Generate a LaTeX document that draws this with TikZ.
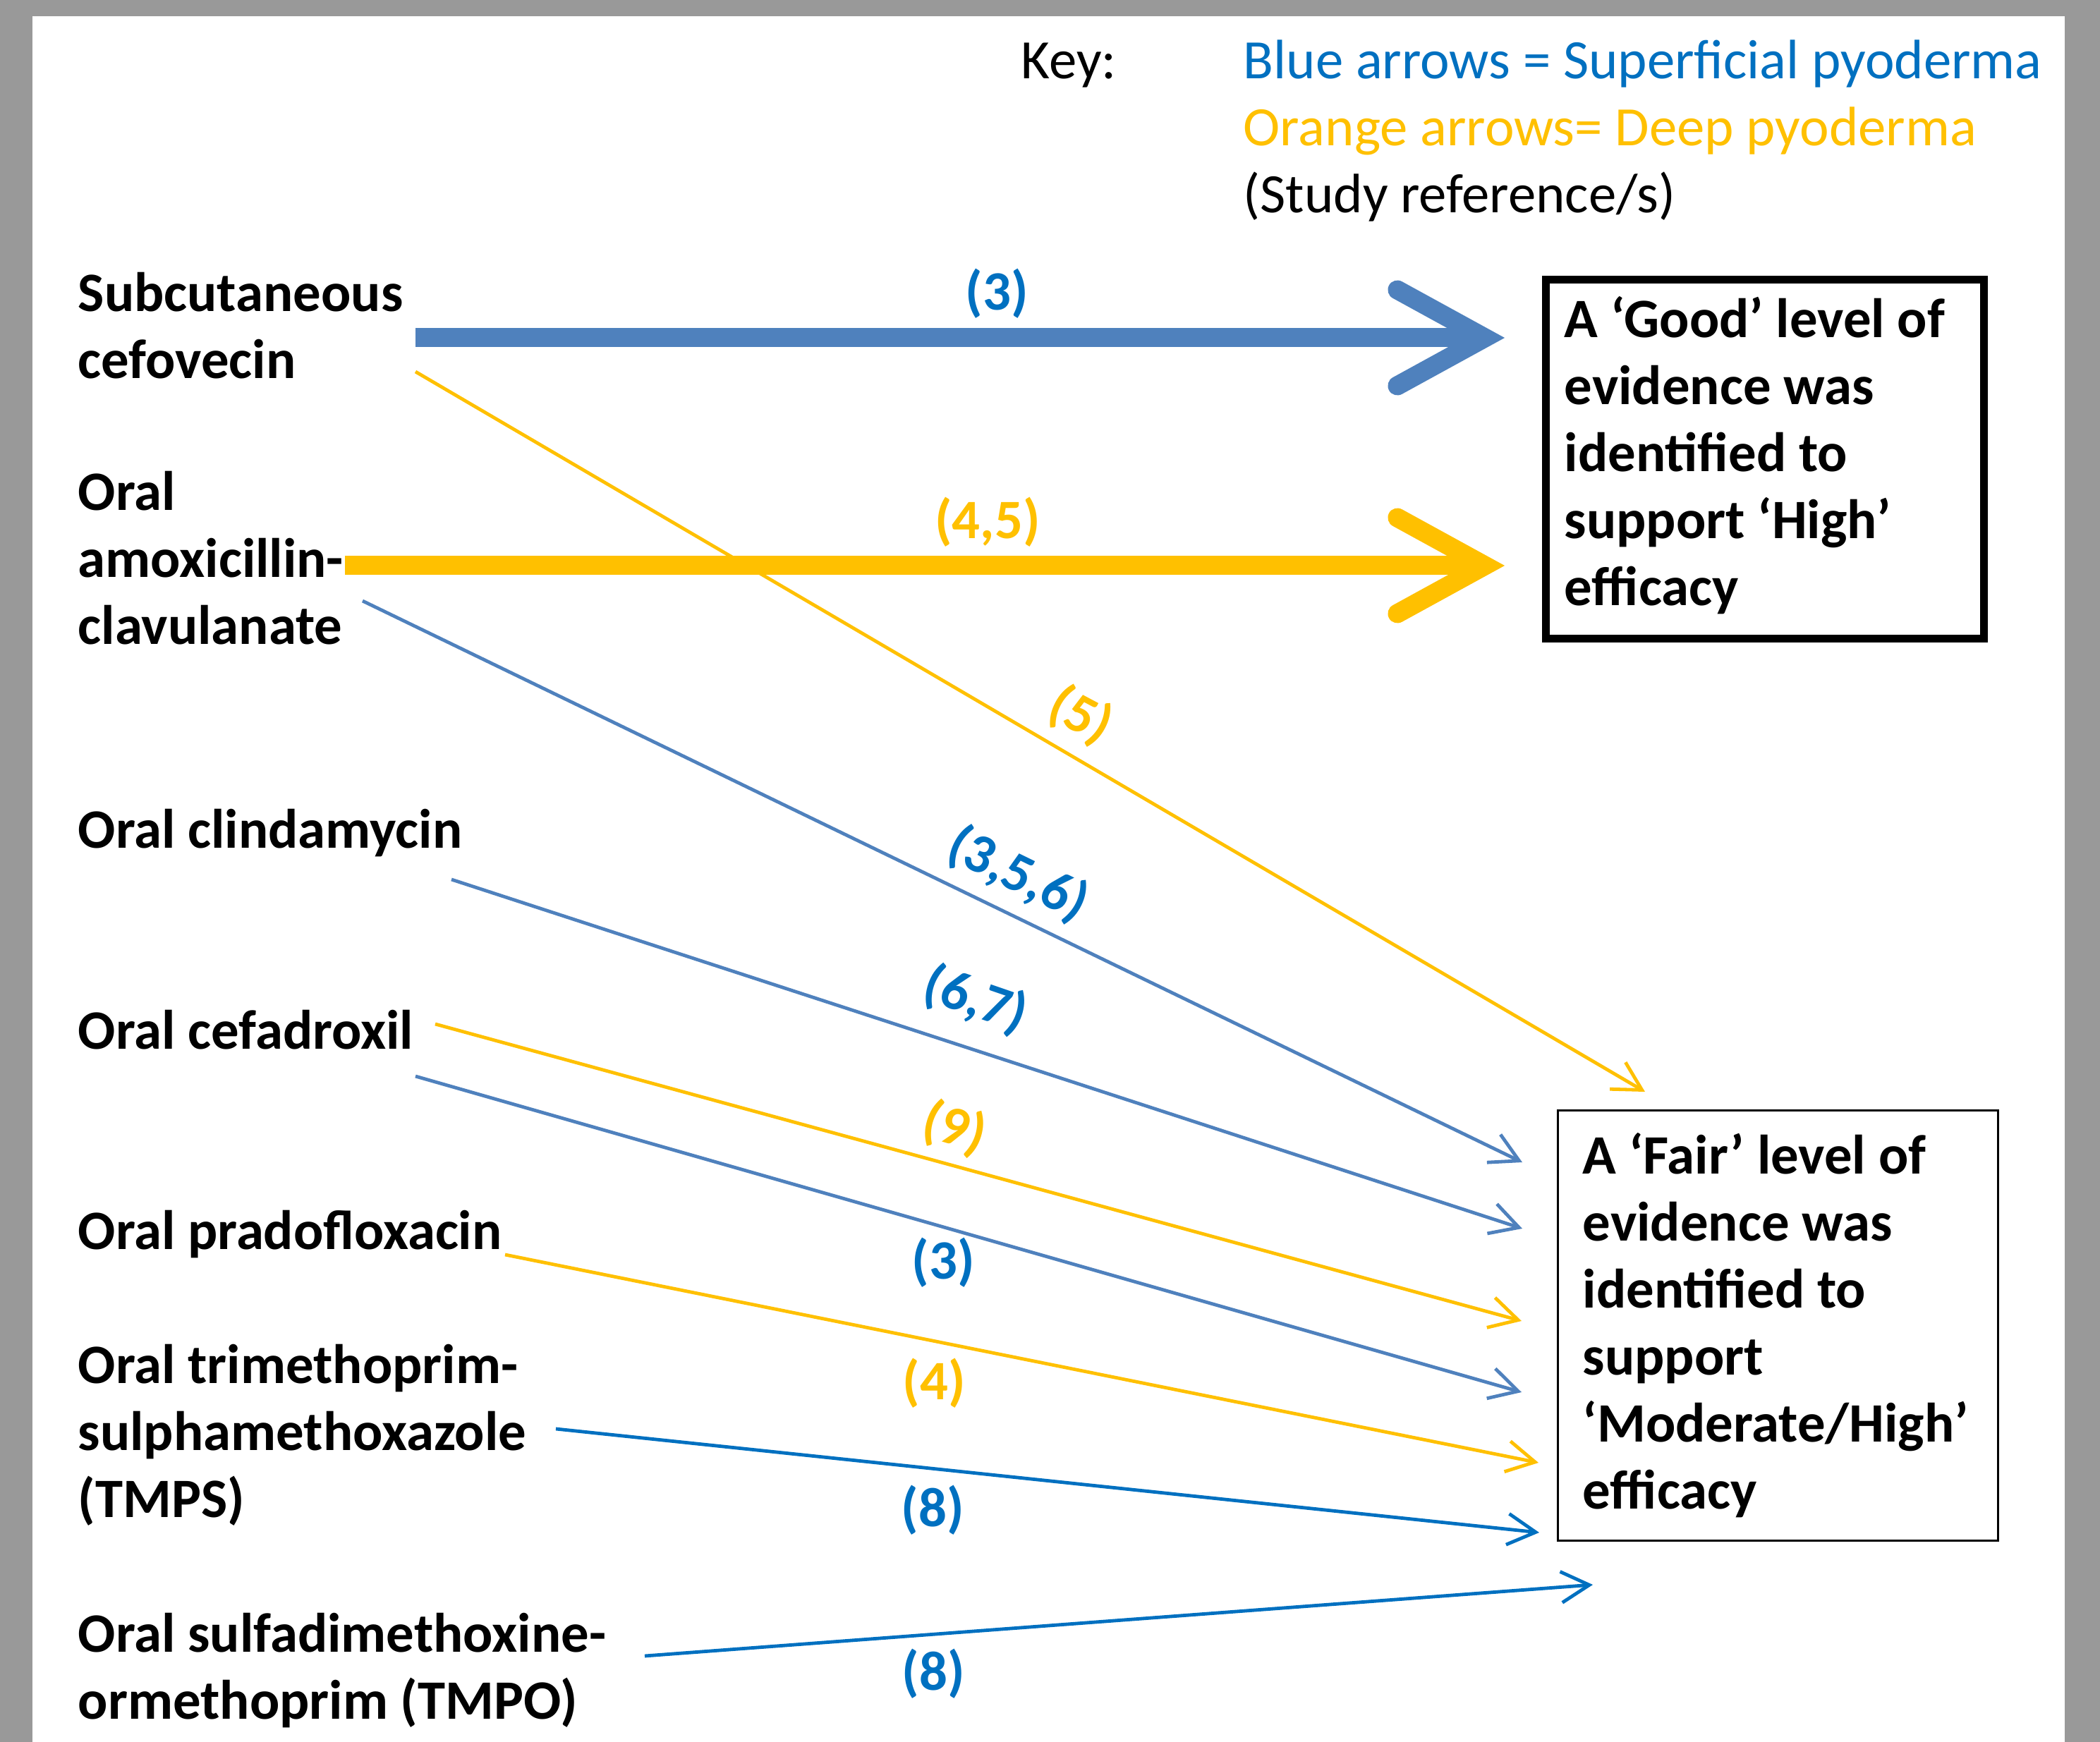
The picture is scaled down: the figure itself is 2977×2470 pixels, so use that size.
\documentclass[tikz,border=0pt]{standalone}
\usepackage{fontspec}
\setmainfont{Carlito}
\usetikzlibrary{arrows.meta}
\definecolor{kblue}{RGB}{0,112,192}
\definecolor{sblue}{RGB}{79,129,189}
\definecolor{korange}{RGB}{255,192,0}
\definecolor{bordergray}{RGB}{153,153,153}
\begin{document}
\begin{tikzpicture}[x=0.25pt,y=-0.25pt,
  druglabel/.style={font=\fontsize{19.7}{23.75}\selectfont\bfseries, inner sep=0pt, anchor=base west, align=left},
  keytext/.style={font=\fontsize{19.7}{23.75}\selectfont, inner sep=0pt, anchor=base west},
  reflabel/.style={font=\fontsize{19.7}{24}\selectfont\bfseries, inner sep=0pt},
  bigarrow/.style={line width=6.75pt, -{Straight Barb[length=31pt,width=34pt,line cap=round,line join=miter]}},
  thinarr/.style={line width=1.2pt, -{Straight Barb[length=10pt,width=11pt]}},
]
\useasboundingbox (0,0) rectangle (2977,2470);
\fill[bordergray] (0,0) rectangle (2977,2470);
\fill[white] (46,23) rectangle (2927,2470);

% key
\node[keytext] (keyk) at (1447,112) {Key:};
\node[keytext, text=kblue] (keyb) at (1762,112) {Blue arrows = Superficial pyoderma};
\node[keytext, text=korange] (keyo) at (1762,207) {Orange arrows= Deep pyoderma};
\node[keytext] (keys) at (1762,302) {(Study reference/s)};

% drug labels (anchored at baseline of last line)
\node[druglabel] (cefo) at (110,537) {Subcutaneous\\cefovecin};
\node[druglabel] (amox) at (110,914) {Oral\\amoxicillin-\\clavulanate};
\node[druglabel] (clin) at (110,1202) {Oral clindamycin};
\node[druglabel] (cefa) at (110,1487) {Oral cefadroxil};
\node[druglabel] (prad) at (110,1771) {Oral pradofloxacin};
\node[druglabel] (tmps) at (110,2151) {Oral trimethoprim-\\sulphamethoxazole\\(TMPS)};
\node[druglabel] (tmpo) at (110,2437) {Oral sulfadimethoxine-\\ormethoprim (TMPO)};

% boxes
\node[draw, line width=2.75pt, minimum width=621*0.25pt, minimum height=509*0.25pt, anchor=north west, inner sep=0pt] (good) at (2186,391) {};
\node[druglabel] (goodtxt) at (2217,859) {A ‘Good’ level of\\evidence was\\identified to\\support ‘High’\\efficacy};
\node[draw, line width=0.8pt, minimum width=624*0.25pt, minimum height=610*0.25pt, anchor=north west, inner sep=0pt] (fair) at (2207,1573) {};
\node[druglabel] (fairtxt) at (2243,2139) {A ‘Fair’ level of\\evidence was\\identified to\\support\\‘Moderate/High’\\efficacy};

% connector ends
\coordinate (s1) at (589,479);   \coordinate (e1) at (2133,479);
\coordinate (s2) at (489,802);   \coordinate (e2) at (2133,802);
\coordinate (s3) at (589,527);   \coordinate (e3) at (2332,1548);
\coordinate (s4) at (514,852);   \coordinate (e4) at (2158,1648);
\coordinate (s5) at (640,1247);  \coordinate (e5) at (2158,1742);
\coordinate (s6) at (617,1452);  \coordinate (e6) at (2157,1873);
\coordinate (s7) at (589,1526);  \coordinate (e7) at (2157,1974);
\coordinate (s8) at (716,1779);  \coordinate (e8) at (2181,2074);
\coordinate (s9) at (788,2026);  \coordinate (e9) at (2182,2173);
\coordinate (s10) at (914,2348); \coordinate (e10) at (2258,2247);

\draw[bigarrow, draw=sblue] (s1) -- (e1);
\draw[bigarrow, draw=korange] (s2) -- (e2);
\draw[thinarr, draw=korange] (s3) -- (e3);
\draw[thinarr, draw=sblue] (s4) -- (e4);
\draw[thinarr, draw=sblue] (s5) -- (e5);
\draw[thinarr, draw=korange] (s6) -- (e6);
\draw[thinarr, draw=sblue] (s7) -- (e7);
\draw[thinarr, draw=korange] (s8) -- (e8);
\draw[thinarr, draw=kblue] (s9) -- (e9);
\draw[thinarr, draw=kblue] (s10) -- (e10);

% reference labels
\node[reflabel, text=kblue] (r1) at (1413,416) {(3)};
\node[reflabel, text=korange] (r2) at (1400,740) {(4,5)};
\node[reflabel, text=korange, rotate=-28] (r3) at (1532,1015) {(5)};
\node[reflabel, text=kblue, rotate=-26] (r4) at (1443,1240) {(3,5,6)};
\node[reflabel, text=kblue, rotate=-19] (r5) at (1383,1418) {(6,7)};
\node[reflabel, text=korange, rotate=-17] (r6) at (1353,1600) {(9)};
\node[reflabel, text=kblue] (r7) at (1337,1790) {(3)};
\node[reflabel, text=korange] (r8) at (1324,1961) {(4)};
\node[reflabel, text=kblue] (r9) at (1322,2141) {(8)};
\node[reflabel, text=kblue] (r10) at (1323,2373) {(8)};
\end{tikzpicture}
\end{document}
